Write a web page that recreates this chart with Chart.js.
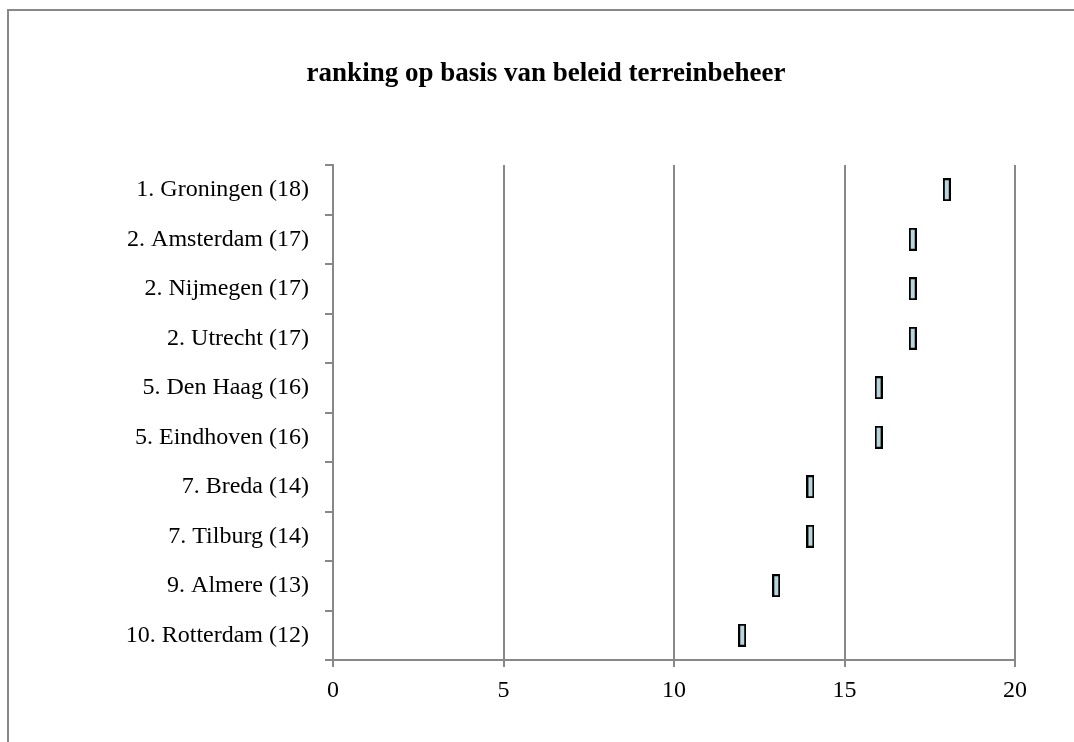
<!DOCTYPE html>
<html>
<head>
<meta charset="utf-8">
<script src="https://cdn.jsdelivr.net/npm/chart.js@4/dist/chart.umd.min.js"></script>
<style>
  html, body { margin: 0; padding: 0; background: #fff; overflow: hidden; }
  #frame {
    position: absolute; left: 7px; top: 9px; width: 1200px; height: 900px;
    border-left: 2px solid #888; border-top: 2px solid #888;
  }
  #wrap { position: absolute; left: 0; top: 0; width: 1092px; height: 742px; }
</style>
</head>
<body>
<div id="frame"></div>
<div id="wrap"><canvas id="ranking"></canvas></div>
<script>
// gemeenten, in volgorde van ranking
const cities = [
    "1. Groningen (18)",
    "2. Amsterdam (17)",
    "2. Nijmegen (17)",
    "2. Utrecht (17)",
    "5. Den Haag (16)",
    "5. Eindhoven (16)",
    "7. Breda (14)",
    "7. Tilburg (14)",
    "9. Almere (13)",
    "10. Rotterdam (12)"
];
const scores = [18, 17, 17, 17, 16, 16, 14, 14, 13, 12];
const xTicks = [0, 5, 10, 15, 20];

const FONT = "'Liberation Serif', 'DejaVu Serif', serif";
const GRAY = "#888888";

// small upright rectangle as marker
function makeMarker() {
    let c = document.createElement('canvas');
    c.width = 8;
    c.height = 23;
    let g = c.getContext('2d');
    g.fillStyle = "#b9d5dc";
    g.fillRect(1, 1, 6, 21);
    g.strokeStyle = "#000000";
    g.lineWidth = 2;
    g.strokeRect(1, 1, 6, 21);
    return c;
}

let ctx = document.getElementById('ranking').getContext('2d');
let rankingChart = new Chart(ctx, {
    type: 'line',
    data: {
        labels: cities,
        datasets: [{
            label: "score",
            data: scores,
            showLine: false,
            pointStyle: makeMarker(),
            pointRadius: 11,
            pointHoverRadius: 11
        }]
    },
    options: {
        indexAxis: 'y',
        responsive: true,
        maintainAspectRatio: false,
        animation: false,
        layout: { padding: { left: 77, right: 77, top: 0, bottom: 0 } },
        plugins: {
            legend: { display: false },
            tooltip: { enabled: false },
            title: {
                display: true,
                text: "ranking op basis van beleid terreinbeheer",
                color: "#000000",
                font: { family: FONT, size: 27, weight: 'bold' },
                padding: { top: 58, bottom: 74.6 }
            }
        },
        scales: {
            x: {
                type: 'linear',
                min: 0,
                max: 20,
                afterBuildTicks: (scale) => { scale.ticks = xTicks.map(v => ({ value: v })); },
                afterFit: (scale) => { scale.height = 82; },
                grid: { color: GRAY, lineWidth: 2, tickLength: 7, drawTicks: true },
                border: { display: true, color: GRAY, width: 2 },
                ticks: { color: "#000000", font: { family: FONT, size: 24 }, padding: 9 }
            },
            y: {
                type: 'category',
                offset: true,
                afterFit: (scale) => { scale.width = 256; },
                grid: { offset: true, drawOnChartArea: false, color: GRAY, lineWidth: 2, tickLength: 8 },
                border: { display: true, color: GRAY, width: 2 },
                ticks: { color: "#000000", font: { family: FONT, size: 24 }, padding: 16 }
            }
        }
    }
});
</script>
</body>
</html>
